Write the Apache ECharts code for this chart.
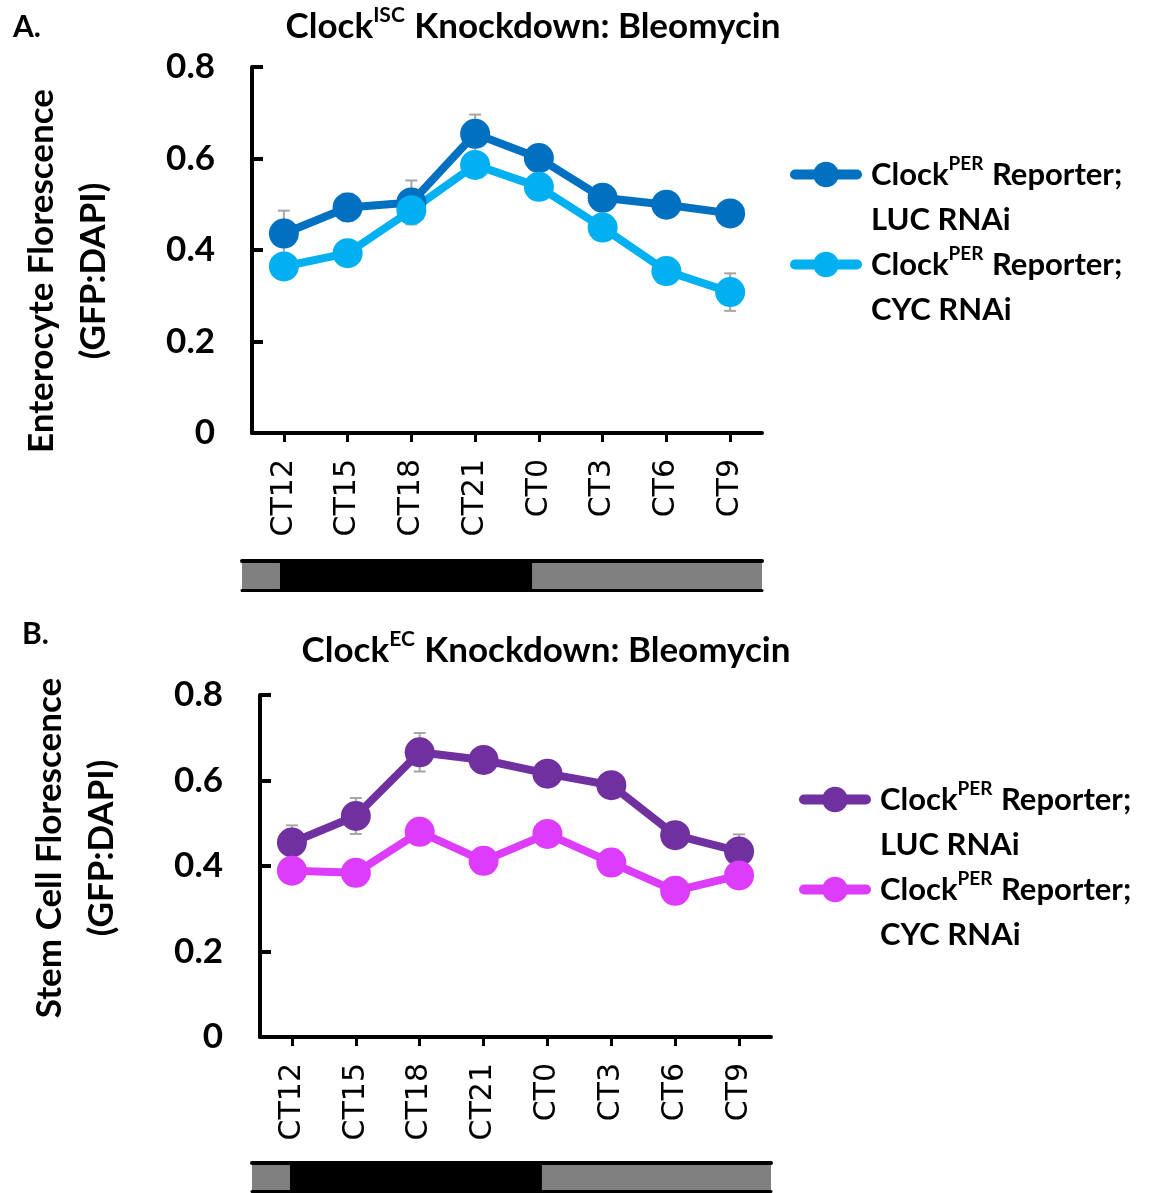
<!DOCTYPE html>
<html>
<head>
<meta charset="utf-8">
<script src="https://cdn.jsdelivr.net/npm/echarts@6/dist/echarts.min.js"></script>
<style>
html,body{margin:0;padding:0;background:#fff}
#chart{width:1149px;height:1193px}
</style>
</head>
<body>
<div id="chart"></div>
<script>
// Circadian time points on the x axis
const timepoints = ['CT12', 'CT15', 'CT18', 'CT21', 'CT0', 'CT3', 'CT6', 'CT9'];

// y axis range (GFP:DAPI ratio)
const yMin = 0;
const yMax = 0.8;
const yStep = 0.2;

// Panel A: Clock ISC knockdown, enterocyte fluorescence
const iscLuc = [0.436, 0.493, 0.504, 0.654, 0.601, 0.514, 0.499, 0.480];
const iscLucErr = [0.050, 0.030, 0.048, 0.042, 0.020, 0.020, 0.020, 0.020];
const iscCyc = [0.364, 0.393, 0.487, 0.586, 0.538, 0.449, 0.354, 0.308];
const iscCycErr = [0.020, 0.020, 0.020, 0.020, 0.020, 0.020, 0.020, 0.041];

// Panel B: Clock EC knockdown, stem cell fluorescence
const ecLuc = [0.455, 0.517, 0.666, 0.648, 0.616, 0.589, 0.472, 0.434];
const ecLucErr = [0.040, 0.042, 0.045, 0.020, 0.020, 0.020, 0.020, 0.040];
const ecCyc = [0.389, 0.384, 0.480, 0.412, 0.475, 0.408, 0.342, 0.378];
const ecCycErr = [0.020, 0.020, 0.020, 0.020, 0.020, 0.020, 0.020, 0.020];

// Light / dark phases shown under each panel (hours)
const phaseNames = ['light', 'dark', 'light'];
const phaseHours = [1.8, 12, 10.9];

const BOLD = 'Lato';
const phaseTotal = phaseHours.reduce((a, b) => a + b, 0);

const legendText = {
  'isc-luc': '{g| }\n{b|Clock}{s|PER}{b| Reporter;}\n{b|LUC RNAi}',
  'isc-cyc': '{g| }\n{b|Clock}{s|PER}{b| Reporter;}\n{b|CYC RNAi}',
  'ec-luc': '{g| }\n{b|Clock}{s|PER}{b| Reporter;}\n{b|LUC RNAi}',
  'ec-cyc': '{g| }\n{b|Clock}{s|PER}{b| Reporter;}\n{b|CYC RNAi}'
};

const richText = {
  g: { fontFamily: BOLD, fontWeight: 'bold', fontSize: 31, lineHeight: 45 },
  b: { fontFamily: BOLD, fontWeight: 'bold', fontSize: 31, lineHeight: 45, color: '#000' },
  s: { fontFamily: BOLD, fontWeight: 'bold', fontSize: 19, lineHeight: 45, color: '#000', padding: [0, 1, 22, 0] }
};

const titleRich = {
  b: { fontFamily: BOLD, fontWeight: 'bold', fontSize: 35, color: '#000' },
  s: { fontFamily: BOLD, fontWeight: 'bold', fontSize: 21, color: '#000', padding: [0, 1, 22, 0] }
};

function mainXAxis(gridIndex) {
  return {
    gridIndex, type: 'category', data: timepoints, boundaryGap: true,
    axisLine: { show: true, lineStyle: { color: '#000', width: 4 } },
    axisTick: { show: true, alignWithLabel: true, length: 9, lineStyle: { color: '#000', width: 3 } },
    axisLabel: { rotate: 90, margin: 26, fontFamily: 'DejaVu Sans', fontSize: 30, color: '#000' },
    splitLine: { show: false }
  };
}

function mainYAxis(gridIndex, name, nameOffset) {
  return {
    gridIndex, type: 'value', min: yMin, max: yMax, interval: yStep,
    name, nameLocation: 'middle', nameRotate: 90, nameGap: 132,
    nameTextStyle: {
      fontFamily: BOLD, fontWeight: 'bold', fontSize: 35, color: '#000', lineHeight: 52,
      padding: nameOffset
    },
    axisLine: { show: true, lineStyle: { color: '#000', width: 4 } },
    axisTick: { show: true, inside: true, length: 11, lineStyle: { color: '#000', width: 4 } },
    axisLabel: {
      margin: 37, fontFamily: BOLD, fontWeight: 'bold', fontSize: 35, color: '#000',
      formatter: v => (v === 0 ? '0' : v.toFixed(1))
    },
    splitLine: { show: false }
  };
}

function phaseAxes(gridIndex) {
  const base = {
    gridIndex, type: 'value', min: 0, max: phaseTotal, z: 5,
    axisTick: { show: false }, axisLabel: { show: false }, splitLine: { show: false }
  };
  return [
    Object.assign({}, base, { position: 'bottom', axisLine: { show: true, onZero: false, lineStyle: { color: '#000', width: 3 } } }),
    Object.assign({}, base, { position: 'top', axisLine: { show: true, onZero: false, lineStyle: { color: '#000', width: 4 } } })
  ];
}

function lineSeries(name, values, axisIndex, color) {
  return {
    name, type: 'line', xAxisIndex: axisIndex, yAxisIndex: axisIndex, z: 3,
    data: values, symbol: 'circle', symbolSize: 30,
    itemStyle: { color },
    lineStyle: { color, width: 8, cap: 'round' }
  };
}

function errorSeries(values, errs, axisIndex) {
  return {
    type: 'custom', xAxisIndex: axisIndex, yAxisIndex: axisIndex, z: 1,
    data: values.map((v, i) => [i, v - errs[i], v + errs[i]]),
    encode: { x: 0, y: [1, 2] },
    renderItem(params, api) {
      const i = api.value(0);
      const lo = api.coord([i, api.value(1)]);
      const hi = api.coord([i, api.value(2)]);
      const hw = 6;
      const st = { stroke: '#A6A6A6', lineWidth: 2 };
      return {
        type: 'group',
        children: [
          { type: 'line', shape: { x1: lo[0], y1: lo[1], x2: hi[0], y2: hi[1] }, style: st },
          { type: 'line', shape: { x1: hi[0] - hw, y1: hi[1], x2: hi[0] + hw, y2: hi[1] }, style: st },
          { type: 'line', shape: { x1: lo[0] - hw, y1: lo[1], x2: lo[0] + hw, y2: lo[1] }, style: st }
        ]
      };
    }
  };
}

function phaseSeries(axisX, axisY) {
  return phaseHours.map((h, i) => ({
    name: phaseNames[i] + '-' + i, type: 'bar', stack: 'phase' + axisY,
    xAxisIndex: axisX, yAxisIndex: axisY, barWidth: '100%', z: 2,
    data: [h],
    itemStyle: { color: phaseNames[i] === 'dark' ? '#000000' : '#808080' }
  }));
}

function legendBlock(names, left, top) {
  return {
    orient: 'vertical', left, top, itemWidth: 62, itemHeight: 32, itemGap: -45,
    selectedMode: false, data: names, formatter: n => legendText[n],
    lineStyle: { width: 10, cap: 'round' },
    textStyle: { color: '#000', fontFamily: BOLD, fontWeight: 'bold', fontSize: 31, lineHeight: 45, padding: [0, 0, 0, 9], rich: richText }
  };
}

const [phAx1, phAx2] = phaseAxes(1);
const [phBx1, phBx2] = phaseAxes(3);

const option = {
  animation: false,
  backgroundColor: '#fff',
  title: [
    { text: 'A.', left: 8, top: 7, textStyle: { fontFamily: BOLD, fontWeight: 'bold', fontSize: 30, color: '#000' } },
    { text: '{b|Clock}{s|ISC}{b| Knockdown: Bleomycin}', left: 528, top: 0, textAlign: 'center', textStyle: { rich: titleRich } },
    { text: 'B.', left: 17, top: 614, textStyle: { fontFamily: BOLD, fontWeight: 'bold', fontSize: 30, color: '#000' } },
    { text: '{b|Clock}{s|EC}{b| Knockdown: Bleomycin}', left: 541, top: 624, textAlign: 'center', textStyle: { rich: titleRich } }
  ],
  legend: [
    legendBlock(['isc-luc', 'isc-cyc'], 785, 102),
    legendBlock(['ec-luc', 'ec-cyc'], 794, 727)
  ],
  grid: [
    { left: 252, top: 67, width: 510, height: 366 },
    { left: 242, top: 561, width: 520, height: 29 },
    { left: 260, top: 695, width: 511, height: 342 },
    { left: 252, top: 1163, width: 519, height: 28 }
  ],
  xAxis: [
    mainXAxis(0),
    phAx1, phAx2,
    mainXAxis(2),
    phBx1, phBx2
  ],
  yAxis: [
    mainYAxis(0, 'Enterocyte Florescence\n(GFP:DAPI)', [0, 42, 0, 0]),
    { gridIndex: 1, type: 'category', data: ['phase'], show: false },
    mainYAxis(2, 'Stem Cell Florescence\n(GFP:DAPI)', [0, 0, 0, 36]),
    { gridIndex: 3, type: 'category', data: ['phase'], show: false }
  ],
  series: [
    errorSeries(iscLuc, iscLucErr, 0),
    errorSeries(iscCyc, iscCycErr, 0),
    lineSeries('isc-luc', iscLuc, 0, '#0070C0'),
    lineSeries('isc-cyc', iscCyc, 0, '#00B0F0'),
    ...phaseSeries(1, 1),
    errorSeries(ecLuc, ecLucErr, 3),
    errorSeries(ecCyc, ecCycErr, 3),
    lineSeries('ec-luc', ecLuc, 3, '#7030A0'),
    lineSeries('ec-cyc', ecCyc, 3, '#DD3CFC'),
    ...phaseSeries(4, 3)
  ]
};

// main panel B series use xAxis 3 / yAxis 2
option.series.forEach(s => {
  if (s.xAxisIndex === 3 && s.yAxisIndex === 3 && s.type !== 'bar') {
    s.yAxisIndex = 2;
  }
});

const chart = echarts.init(document.getElementById('chart'), null, { renderer: 'canvas' });
chart.setOption(option);
</script>
</body>
</html>
